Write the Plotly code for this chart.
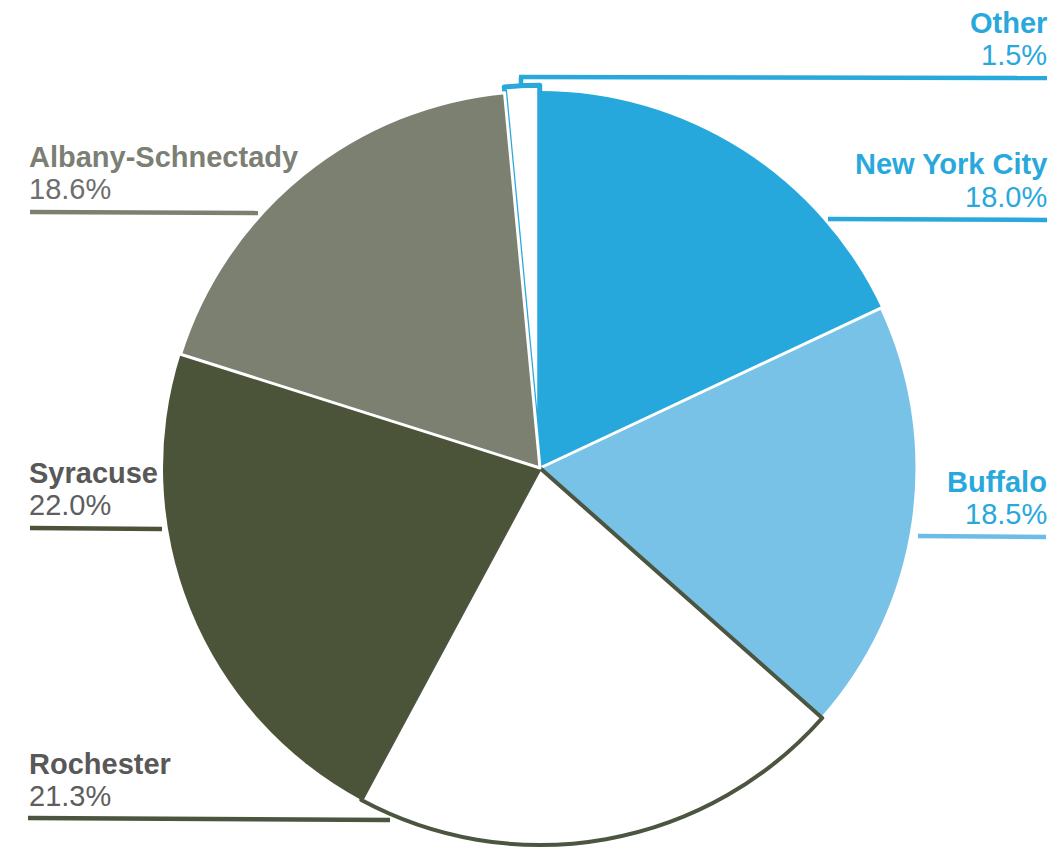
import plotly.graph_objects as go

# ---- data ----
labels = ["Other", "New York City", "Buffalo", "Rochester", "Syracuse", "Albany-Schnectady"]
values = [1.5, 18.0, 18.5, 21.3, 22.0, 18.6]
pct_text = ["1.5%", "18.0%", "18.5%", "21.3%", "22.0%", "18.6%"]

# ---- styles ----
fill_colors = ["#ffffff", "#27a8dc", "#78c2e7", "#ffffff", "#4b5339", "#7b8071"]
line_colors = ["#29a8dc", "#ffffff", "#ffffff", "#4b5540", "#ffffff", "#ffffff"]
line_widths = [5, 0, 3, 4, 0, 3]
pulls = [0.015, 0, 0, 0, 0, 0]

W, H = 1062, 854

def px(x):
    return min(max(x / W, 0), 1)

def py(y):
    return min(max(1 - y / H, 0), 1)

R = 377
half = R * (1 + max(pulls))
CX, CY = 540, 468

fig = go.Figure(go.Pie(
    labels=labels,
    values=values,
    sort=False,
    direction="clockwise",
    rotation=-values[0] / sum(values) * 360,
    marker=dict(colors=fill_colors, line=dict(color=line_colors, width=line_widths)),
    pull=pulls,
    textinfo="none",
    hoverinfo="label+percent",
    showlegend=False,
    domain=dict(x=[px(CX - half), px(CX + half)], y=[py(CY + half), py(CY - half)]),
))

FONT = "Liberation Sans, Arial, Helvetica, sans-serif"
BLUE = "#29a8dc"
LBLUE = "#6cbde6"

# label layout: (index, side, name_y, pct_y, name color, pct color)
label_pos = [
    (0, "right", 23, 55, BLUE, BLUE),
    (1, "right", 164, 197, BLUE, BLUE),
    (2, "right", 482, 514, BLUE, BLUE),
    (5, "left", 157, 189, "#7b7f74", "#6e6e6e"),
    (4, "left", 473, 505, "#585858", "#5e5e5e"),
    (3, "left", 764, 796, "#585858", "#5e5e5e"),
]

annotations = []
for i, side, ny, pyy, nc, pc in label_pos:
    if side == "right":
        x, xa = px(1049), "right"
    else:
        x, xa = px(27), "left"
    annotations.append(dict(x=x, y=py(ny), xref="paper", yref="paper", xanchor=xa, yanchor="middle",
                            text="<b>" + labels[i] + "</b>", showarrow=False,
                            font=dict(family=FONT, size=29, color=nc)))
    annotations.append(dict(x=x, y=py(pyy), xref="paper", yref="paper", xanchor=xa, yanchor="middle",
                            text=pct_text[i], showarrow=False,
                            font=dict(family=FONT, size=29, color=pc)))

def seg(x0, y0, x1, y1, color, w=4.5):
    return dict(type="line", xref="paper", yref="paper", x0=px(x0), y0=py(y0), x1=px(x1), y1=py(y1),
                line=dict(color=color, width=w), layer="above")

shapes = [
    seg(521, 88, 521, 77, BLUE),
    seg(519, 77, 1047, 78, BLUE),
    seg(828, 219, 1047, 220, BLUE),
    seg(918, 536, 1046, 537, LBLUE),
    seg(30, 212, 258, 213, "#7b8071"),
    seg(30, 528, 162, 529, "#4b5339"),
    seg(28, 818, 390, 820, "#4b5540"),
]

fig.update_layout(
    width=W, height=H,
    margin=dict(l=0, r=0, t=0, b=0),
    paper_bgcolor="white", plot_bgcolor="white",
    annotations=annotations,
    shapes=shapes,
)

fig.write_html("out.html", config={"displayModeBar": False},
               post_script="document.body.style.margin='0';document.body.style.overflow='hidden';")
